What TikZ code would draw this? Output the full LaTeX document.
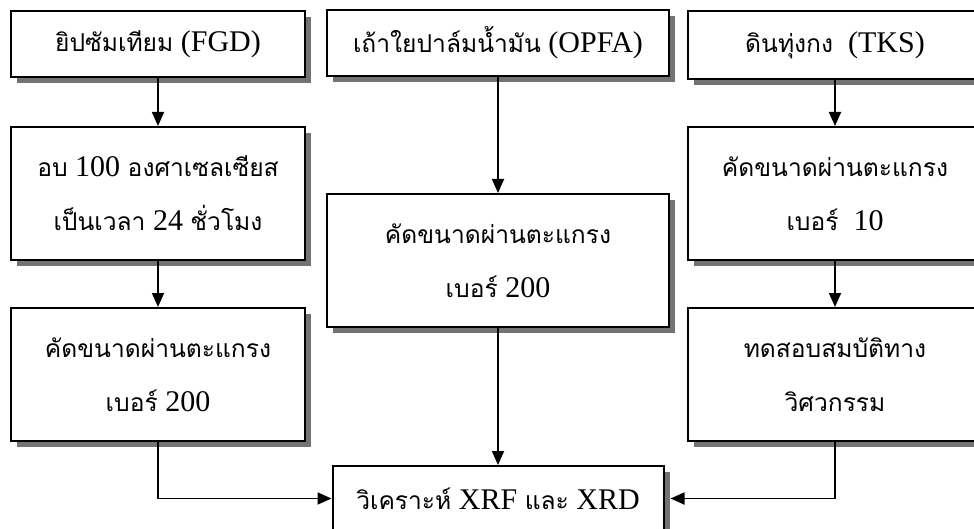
\documentclass[tikz,border=0pt]{standalone}
\usepackage{fontspec}
\setmainfont{Liberation Serif}
\newfontfamily\thaifont[Script=Thai,Scale=0.82]{Loma}
\newcommand{\thtext}[1]{{\thaifont #1}}
\usepackage{tikz}
\usetikzlibrary{positioning, arrows.meta, shadows}

\begin{document}
\begin{tikzpicture}[
  box/.style={draw, fill=white, line width=1pt, align=center, inner sep=0pt,
    font=\fontsize{15}{27}\selectfont,
    drop shadow={shadow xshift=3pt, shadow yshift=-3pt, fill=black!55, opacity=1}},
  smallbox/.style={box, minimum width=147pt, minimum height=33pt},
  tallbox/.style={box, minimum width=147pt, minimum height=66.5pt},
  widebox/.style={box, minimum width=171pt},
  arr/.style={-{Triangle[length=7pt, width=6pt]}, line width=0.9pt},
]
  \useasboundingbox (0,0) rectangle (487pt,-264.5pt);

  % FGD column
  \node[smallbox, anchor=north west] (fgd) at (5pt,-5pt) {\thtext{ยิปซัมเทียม} (FGD)};
  \node[tallbox, below=24pt of fgd] (oven) {\thtext{อบ} 100 \thtext{องศาเซลเซียส}\\ \thtext{เป็นเวลา} 24 \thtext{ชั่วโมง}};
  \node[tallbox, below=23pt of oven] (sievefgd) {\thtext{คัดขนาดผ่านตะแกรง}\\ \thtext{เบอร์} 200};

  % OPFA column
  \node[widebox, minimum height=33pt, anchor=north west] (opfa) at (163pt,-4.5pt) {\thtext{เถ้าใยปาล์มน้ำมัน} (OPFA)};
  \node[widebox, minimum height=66.5pt, below=58pt of opfa] (sieveopfa) {\thtext{คัดขนาดผ่านตะแกรง}\\ \thtext{เบอร์} 200};

  % TKS column
  \node[smallbox, minimum height=34pt, anchor=north west] (tks) at (343.5pt,-5pt) {\thtext{ดินทุ่งกง}\ \ (TKS)};
  \node[tallbox, below=23pt of tks] (sievetks) {\thtext{คัดขนาดผ่านตะแกรง}\\ \thtext{เบอร์}\ \ 10};
  \node[tallbox, below=23pt of sievetks] (test) {\thtext{ทดสอบสมบัติทาง}\\ \thtext{วิศวกรรม}};

  % analysis
  \node[box, minimum width=165.5pt, minimum height=32.5pt, below=68.5pt of sieveopfa] (xrf) {\thtext{วิเคราะห์} XRF \thtext{และ} XRD};

  % arrows
  \draw[arr] (fgd) -- (oven);
  \draw[arr] (oven) -- (sievefgd);
  \draw[arr] (opfa) -- (sieveopfa);
  \draw[arr] (sieveopfa) -- (xrf);
  \draw[arr] (tks) -- (sievetks);
  \draw[arr] (sievetks) -- (test);
  \draw[arr] (sievefgd.south) |- (xrf.west);
  \draw[arr] (test.south) |- ([xshift=3pt]xrf.east);
\end{tikzpicture}
\end{document}
